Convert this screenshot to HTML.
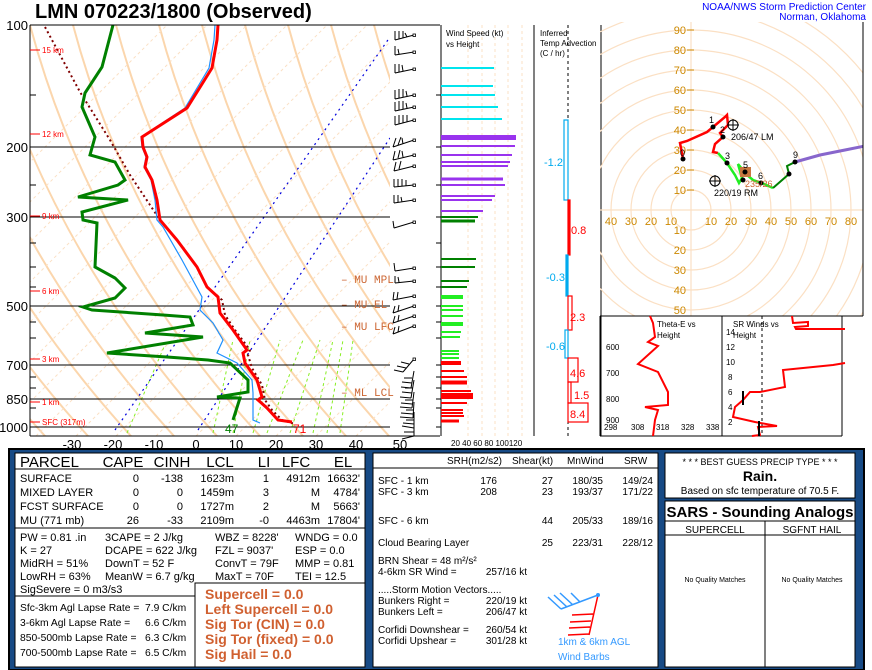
<!DOCTYPE html>
<html><head><meta charset="utf-8"><style>
html,body{margin:0;padding:0;background:#fff;}
svg{display:block;font-family:"Liberation Sans",sans-serif;}
</style></head><body>
<svg width="872" height="670" viewBox="0 0 872 670" xmlns="http://www.w3.org/2000/svg">
<defs>
<clipPath id="sk"><rect x="30" y="25" width="360" height="411"/></clipPath>
<clipPath id="ho"><rect x="600" y="22" width="263" height="294"/></clipPath>
</defs>
<rect width="872" height="670" fill="#fff"/>
<text x="35" y="18" font-size="20" font-weight="bold">LMN   070223/1800  (Observed)</text>
<text x="866" y="10" font-size="10" fill="#0000ff" text-anchor="end">NOAA/NWS Storm Prediction Center</text>
<text x="866" y="20" font-size="10" fill="#0000ff" text-anchor="end">Norman, Oklahoma</text>

<g clip-path="url(#sk)">
 <g stroke="#fbd6ad" stroke-width="2" fill="none">
  <path d="M-185,25 Q-125,250 45,436"/><path d="M-142,25 Q-82,250 88,436"/><path d="M-99,25 Q-39,250 131,436"/>
  <path d="M-56,25 Q4,250 174,436"/><path d="M-13,25 Q47,250 217,436"/><path d="M30,25 Q90,250 260,436"/>
  <path d="M73,25 Q133,250 303,436"/><path d="M116,25 Q176,250 346,436"/><path d="M159,25 Q219,250 389,436"/>
  <path d="M202,25 Q262,250 432,436"/><path d="M245,25 Q305,250 475,436"/><path d="M288,25 Q348,250 518,436"/>
  <path d="M331,25 Q391,250 561,436"/><path d="M374,25 Q434,250 604,436"/>
 </g>
 <g stroke="#fbe0c4" stroke-width="1" stroke-dasharray="3,3" fill="none">
  <path d="M-244,436 l411,-411"/><path d="M-204,436 l411,-411"/><path d="M-164,436 l411,-411"/><path d="M-124,436 l411,-411"/>
  <path d="M-84,436 l411,-411"/><path d="M-44,436 l411,-411"/><path d="M-4,436 l411,-411"/><path d="M36,436 l411,-411"/>
  <path d="M76,436 l411,-411"/><path d="M116,436 l411,-411"/><path d="M156,436 l411,-411"/><path d="M196,436 l411,-411"/>
  <path d="M236,436 l411,-411"/><path d="M276,436 l411,-411"/><path d="M316,436 l411,-411"/><path d="M356,436 l411,-411"/>
 </g>
 <g stroke="#88ee22" stroke-width="1" stroke-dasharray="3,3" fill="none">
  <path d="M127,433 L167,340"/><path d="M213,433 L233,340"/><path d="M233,433 L250,340"/><path d="M253,433 L280,340"/>
  <path d="M267,433 L303,340"/><path d="M290,433 L320,340"/><path d="M313,433 L333,340"/><path d="M327,433 L343,340"/><path d="M340,433 L353,340"/>
 </g>
 <g stroke="#0000dd" stroke-width="1.2" stroke-dasharray="2,4" fill="none">
  <path d="M115,430 L390,37"/><path d="M198,430 L390,138"/>
 </g>
 <g stroke="#000" stroke-width="1">
  <line x1="30" y1="147" x2="390" y2="147"/><line x1="30" y1="217" x2="390" y2="217"/>
  <line x1="30" y1="306" x2="390" y2="306"/><line x1="30" y1="365" x2="390" y2="365"/>
  <line x1="30" y1="399" x2="390" y2="399"/><line x1="30" y1="427" x2="390" y2="427"/>
 </g>
 <polyline fill="none" stroke="#800000" stroke-width="2" stroke-dasharray="2,3" points="45,27 80,92 110,140 130,175 150,205 160,220 177,240 197,267 207,287 222,300 225,315 235,330 250,350 248,355 252,368 262,385 265,400 272,410 282,420 295,424"/>
 <polyline fill="none" stroke="#1e90ff" stroke-width="1.2" points="215,25 214,40 209,68 185,108 141,137 142,147 146,157 144,167 151,180 155,200 157,220 163,227 182,260 202,297 200,310 213,323 223,340 217,353 237,363 252,380 253,393 253,420 260,423"/>
 <polyline fill="none" stroke="#ff0000" stroke-width="3" points="218,25 217,40 212,68 187,108 142,137 143,147 147,157 145,167 152,180 157,200 160,220 177,240 197,267 207,287 218,297 220,313 233,330 247,350 243,353 245,363 257,380 262,397 258,400 267,408 278,420 292,422"/>
 <polyline fill="none" stroke="#008000" stroke-width="3" points="113,25 102,67 85,93 82,107 95,137 90,155 115,162 125,180 118,185 78,197 128,200 82,212 83,220 97,223 95,267 115,278 125,288 115,298 83,307 92,310 163,315 190,317 193,325 145,333 203,337 107,353 167,357 208,360 230,363 248,380 248,392 217,397 240,398 233,420"/>
</g>
<line x1="30" y1="25" x2="440" y2="25" stroke="#000"/>
<line x1="30" y1="25" x2="30" y2="436" stroke="#000"/>
<line x1="30" y1="436" x2="440" y2="436" stroke="#000"/>
<g font-size="13" text-anchor="end">
 <text x="28" y="30">100</text><text x="28" y="152">200</text><text x="28" y="222">300</text><text x="28" y="311">500</text>
 <text x="28" y="370">700</text><text x="28" y="404">850</text><text x="28" y="432">1000</text>
</g>
<g stroke="#000"><line x1="30" y1="95" x2="36" y2="95"/><line x1="30" y1="185" x2="36" y2="185"/><line x1="30" y1="243" x2="36" y2="243"/><line x1="30" y1="267" x2="36" y2="267"/><line x1="30" y1="287" x2="36" y2="287"/><line x1="30" y1="322" x2="36" y2="322"/><line x1="30" y1="338" x2="36" y2="338"/><line x1="30" y1="377" x2="36" y2="377"/><line x1="30" y1="388" x2="36" y2="388"/><line x1="30" y1="408" x2="36" y2="408"/>
<line x1="436" y1="95" x2="441" y2="95"/><line x1="436" y1="147" x2="441" y2="147"/><line x1="436" y1="185" x2="441" y2="185"/><line x1="436" y1="217" x2="441" y2="217"/><line x1="436" y1="243" x2="441" y2="243"/><line x1="436" y1="267" x2="441" y2="267"/><line x1="436" y1="287" x2="441" y2="287"/><line x1="436" y1="306" x2="441" y2="306"/><line x1="436" y1="322" x2="441" y2="322"/><line x1="436" y1="338" x2="441" y2="338"/><line x1="436" y1="365" x2="441" y2="365"/><line x1="436" y1="377" x2="441" y2="377"/><line x1="436" y1="388" x2="441" y2="388"/><line x1="436" y1="399" x2="441" y2="399"/><line x1="436" y1="408" x2="441" y2="408"/><line x1="436" y1="427" x2="441" y2="427"/></g>
<g font-size="13" text-anchor="middle">
 <text x="72" y="449">-30</text><text x="113" y="449">-20</text><text x="154" y="449">-10</text><text x="196" y="449">0</text>
 <text x="236" y="449">10</text><text x="276" y="449">20</text><text x="316" y="449">30</text><text x="356" y="449">40</text><text x="400" y="449">50</text>
</g>
<g fill="#ff0000" font-size="8">
 <line x1="30" y1="50" x2="40" y2="50" stroke="#f00"/><text x="42" y="53">15 km</text>
 <line x1="30" y1="134" x2="40" y2="134" stroke="#f00"/><text x="42" y="137">12 km</text>
 <line x1="30" y1="216" x2="40" y2="216" stroke="#f00"/><text x="42" y="219">9 km</text>
 <line x1="30" y1="291" x2="40" y2="291" stroke="#f00"/><text x="42" y="294">6 km</text>
 <line x1="30" y1="359" x2="40" y2="359" stroke="#f00"/><text x="42" y="362">3 km</text>
 <line x1="30" y1="402" x2="40" y2="402" stroke="#f00"/><text x="42" y="405">1 km</text>
 <line x1="30" y1="422" x2="40" y2="422" stroke="#f00"/><text x="42" y="425">SFC (317m)</text>
</g>
<g fill="#cc6633" font-size="11" font-family="Liberation Mono,monospace">
 <text x="341" y="283">– MU MPL</text><text x="341" y="308">– MU EL</text><text x="341" y="330">– MU LFC</text><text x="341" y="396">– ML LCL</text>
</g>
<text x="225" y="433" fill="#008000" font-size="12">47</text>
<text x="293" y="433" fill="#ff0000" font-size="12">71</text>
<g stroke="#000" stroke-width="1" fill="none">
 <path d="M414,35 L395,40 M395,40 l0,-9 M399,39 l0,-8 M403,38 l0,-7 M407,37 l-2,-4"/>
 <path d="M414,52 L395,55 M395,55 l0,-9 M399,54 l-1,-5"/>
 <path d="M414,69 L395,73 M395,73 l0,-9 M399,72 l0,-8 M403,71 l-1,-6"/>
 <path d="M414,95 L395,99 M395,99 l0,-9 M399,98 l0,-9 M403,97 l0,-8 M407,96 l-1,-5"/>
 <path d="M414,107 L395,111 M395,111 l0,-9 M399,110 l0,-9 M403,109 l0,-8 M407,108 l-1,-5"/>
 <path d="M414,120 L395,125 M395,125 l0,-9 M399,124 l0,-9 M403,123 l0,-8 M407,122 l0,-7"/>
 <path d="M414,140 L393,147 M393,147 l3,-9 M398,145 l3,-8 M403,144 l-1,-6"/>
 <path d="M414,155 L393,160 M393,160 l2,-9 M398,158 l2,-8 M403,157 l-1,-6"/>
 <path d="M414,166 L394,171 M394,171 l2,-9 M399,169 l2,-8"/>
 <path d="M414,185 L394,187 M394,187 l0,-8 M398,187 l0,-8 M402,186 l0,-7 M406,186 l0,-6"/>
 <path d="M414,200 L394,203 M394,203 l0,-8 M398,202 l0,-7 M402,202 l-1,-5"/>
 <path d="M414,222 L394,228 M394,228 l-1,-7"/>
 <path d="M414,268 L395,271 M395,271 l-1,-8"/>
 <path d="M414,281 L395,283 M395,283 l0,-7 M399,282 l-1,-5"/>
 <path d="M414,296 L393,300 M393,300 l1,-8 M397,299 l1,-7"/>
 <path d="M414,306 L393,313 M393,313 l2,-7 M398,311 l1,-6"/>
 <path d="M414,316 L393,323 M393,323 l2,-7 M398,321 l1,-6"/>
 <path d="M414,326 L393,334 M393,334 l2,-7 M398,332 l1,-6"/>
 <path d="M414,359 L403,372 M403,372 l-9,-2 M406,368 l-9,-2 M409,364 l-8,-2"/>
 <path d="M414,371 L411,388 M411,388 l-10,-1 M412,383 l-10,-1 M412,378 l-8,0"/>
 <path d="M414,380 L411,398 M411,398 l-11,-1 M412,393 l-10,-1 M413,388 l-8,0"/>
 <path d="M414,392 L412,408 M412,408 l-12,-1 M412,404 l-11,-1 M413,400 l-8,0"/>
 <path d="M414,402 L413,418 M413,418 l-13,-1 M413,414 l-12,-1 M414,410 l-8,0"/>
 <path d="M414,412 L414,428 M414,428 l-12,-2 M414,424 l-11,-1 M414,420 l-8,0"/>
 <path d="M414,420 L414,436 M414,436 l-12,3 M414,432 l-10,0"/>
</g>
<g fill="#fff" stroke="#000" stroke-width="0.8">
<rect x="413" y="34" width="2.5" height="2.5"/><rect x="413" y="51" width="2.5" height="2.5"/><rect x="413" y="68" width="2.5" height="2.5"/><rect x="413" y="94" width="2.5" height="2.5"/><rect x="413" y="106" width="2.5" height="2.5"/><rect x="413" y="119" width="2.5" height="2.5"/><rect x="413" y="139" width="2.5" height="2.5"/><rect x="413" y="154" width="2.5" height="2.5"/><rect x="413" y="165" width="2.5" height="2.5"/><rect x="413" y="184" width="2.5" height="2.5"/><rect x="413" y="199" width="2.5" height="2.5"/><rect x="413" y="221" width="2.5" height="2.5"/><rect x="413" y="267" width="2.5" height="2.5"/><rect x="413" y="280" width="2.5" height="2.5"/><rect x="413" y="295" width="2.5" height="2.5"/><rect x="413" y="305" width="2.5" height="2.5"/><rect x="413" y="315" width="2.5" height="2.5"/><rect x="413" y="325" width="2.5" height="2.5"/><rect x="413" y="358" width="2.5" height="2.5"/>
</g>

<line x1="441" y1="25" x2="441" y2="436" stroke="#000"/>
<g stroke="#fbe0c4" stroke-dasharray="3,3"><line x1="468" y1="25" x2="468" y2="436"/><line x1="482" y1="25" x2="482" y2="436"/><line x1="495" y1="25" x2="495" y2="436"/><line x1="508" y1="25" x2="508" y2="436"/><line x1="522" y1="25" x2="522" y2="436"/></g>
<text x="446" y="36" font-size="8">Wind Speed (kt)</text><text x="446" y="47" font-size="8">vs Height</text>
<g stroke-width="2">
 <g stroke="#00e5ee"><line x1="441" y1="68" x2="494" y2="68"/><line x1="441" y1="86" x2="493" y2="86"/><line x1="441" y1="95" x2="495" y2="95"/><line x1="441" y1="107" x2="498" y2="107"/><line x1="441" y1="119" x2="502" y2="119"/></g>
 <g stroke="#9933ee"><line x1="441" y1="137.5" x2="516" y2="137.5" stroke-width="5"/><line x1="441" y1="146" x2="515" y2="146"/><line x1="441" y1="155" x2="512" y2="155"/><line x1="441" y1="162" x2="510" y2="162"/><line x1="441" y1="166" x2="508" y2="166"/><line x1="441" y1="179" x2="503" y2="179" stroke-width="3"/><line x1="441" y1="185" x2="505" y2="185"/><line x1="441" y1="196" x2="495" y2="196"/><line x1="441" y1="200" x2="492" y2="200"/><line x1="441" y1="211" x2="483" y2="211"/></g>
 <g stroke="#008000"><line x1="441" y1="217" x2="478" y2="217"/><line x1="441" y1="221" x2="475" y2="221" stroke-width="3"/><line x1="441" y1="259" x2="476" y2="259"/><line x1="441" y1="267" x2="475" y2="267"/><line x1="441" y1="281" x2="469" y2="281"/><line x1="441" y1="287" x2="467" y2="287"/></g>
 <g stroke="#22ee22"><line x1="441" y1="297" x2="463" y2="297" stroke-width="4"/><line x1="441" y1="306" x2="463" y2="306"/><line x1="441" y1="310" x2="463" y2="310"/><line x1="441" y1="316" x2="463" y2="316"/><line x1="441" y1="324" x2="463" y2="324" stroke-width="4"/><line x1="441" y1="332" x2="461" y2="332"/><line x1="441" y1="337" x2="460" y2="337"/><line x1="441" y1="351" x2="459" y2="351"/><line x1="441" y1="354" x2="459" y2="354"/><line x1="441" y1="358" x2="459" y2="358"/></g>
 <g stroke="#ff0000"><line x1="441" y1="363" x2="461" y2="363" stroke-width="4"/><line x1="441" y1="371" x2="464" y2="371"/><line x1="441" y1="377" x2="467" y2="377"/><line x1="441" y1="382.5" x2="467" y2="382.5" stroke-width="4"/><line x1="441" y1="391" x2="471" y2="391"/><line x1="441" y1="396" x2="473" y2="396" stroke-width="6"/><line x1="441" y1="403" x2="467" y2="403"/><line x1="441" y1="410" x2="463" y2="410"/><line x1="441" y1="413" x2="463" y2="413"/><line x1="441" y1="416" x2="464" y2="416"/><line x1="441" y1="421" x2="459" y2="421" stroke-width="3"/></g>
</g>
<text x="451" y="446" font-size="8">20 40 60 80 100120</text>

<line x1="534" y1="25" x2="534" y2="436" stroke="#000"/>
<line x1="601" y1="25" x2="601" y2="436" stroke="#000"/>
<line x1="568" y1="25" x2="568" y2="436" stroke="#000" stroke-dasharray="3,3"/>
<g font-size="8"><text x="540" y="36">Inferred</text><text x="540" y="46">Temp Advection</text><text x="540" y="56">(C / hr)</text></g>
<g fill="none" stroke-width="1.2">
 <rect x="564" y="120" width="4" height="80" stroke="#00aaee"/>
 <rect x="568" y="200" width="2" height="55" fill="#f00" stroke="#f00"/>
 <rect x="566" y="255" width="2" height="41" fill="#00aaee" stroke="#00aaee"/>
 <rect x="568" y="296" width="4" height="34" stroke="#f00"/>
 <rect x="565" y="330" width="3" height="28" stroke="#00aaee"/>
 <rect x="568" y="358" width="10" height="24" stroke="#f00"/>
 <rect x="568" y="382" width="3" height="21" stroke="#f00"/>
 <rect x="568" y="403" width="20" height="19" stroke="#f00"/>
</g>
<g font-size="11"><text x="544" y="166" fill="#00aaee">-1.2</text><text x="571" y="234" fill="#f00">0.8</text><text x="546" y="281" fill="#00aaee">-0.3</text><text x="570" y="321" fill="#f00">2.3</text><text x="546" y="350" fill="#00aaee">-0.6</text><text x="570" y="377" fill="#f00">4.6</text><text x="574" y="399" fill="#f00">1.5</text><text x="570" y="418" fill="#f00">8.4</text></g>

<g clip-path="url(#ho)">
 <g fill="none" stroke="#fbe0c4" stroke-width="1.2">
  <circle cx="691" cy="210" r="20"/><circle cx="691" cy="210" r="40"/><circle cx="691" cy="210" r="60"/><circle cx="691" cy="210" r="80"/><circle cx="691" cy="210" r="100"/><circle cx="691" cy="210" r="120"/><circle cx="691" cy="210" r="140"/><circle cx="691" cy="210" r="160"/><circle cx="691" cy="210" r="180"/><circle cx="691" cy="210" r="200"/><circle cx="691" cy="210" r="220"/>
  <line x1="600" y1="210" x2="863" y2="210"/><line x1="691" y1="22" x2="691" y2="316"/>
 </g>
 <g fill="#cc8800" font-size="11">
  <g text-anchor="end"><text x="686" y="34">90</text><text x="686" y="54">80</text><text x="686" y="74">70</text><text x="686" y="94">60</text><text x="686" y="114">50</text><text x="686" y="134">40</text><text x="686" y="154">30</text><text x="686" y="174">20</text><text x="686" y="194">10</text>
  <text x="686" y="234">10</text><text x="686" y="254">20</text><text x="686" y="274">30</text><text x="686" y="294">40</text><text x="686" y="314">50</text></g>
  <g text-anchor="middle"><text x="611" y="225">40</text><text x="631" y="225">30</text><text x="651" y="225">20</text><text x="671" y="225">10</text><text x="711" y="225">10</text><text x="731" y="225">20</text><text x="751" y="225">30</text><text x="771" y="225">40</text><text x="791" y="225">50</text><text x="811" y="225">60</text><text x="831" y="225">70</text><text x="851" y="225">80</text></g>
 </g>
 <g stroke="#cc8800"><line x1="687" y1="30" x2="694" y2="30"/><line x1="687" y1="50" x2="694" y2="50"/><line x1="687" y1="70" x2="694" y2="70"/><line x1="687" y1="90" x2="694" y2="90"/><line x1="687" y1="110" x2="694" y2="110"/><line x1="687" y1="130" x2="694" y2="130"/><line x1="687" y1="150" x2="694" y2="150"/><line x1="687" y1="170" x2="694" y2="170"/><line x1="687" y1="190" x2="694" y2="190"/></g>
 <polyline fill="none" stroke="#ff0000" stroke-width="2.5" points="683,159 680,143 687,141 707,132 713,127 725,117 727,115 728,125 720,133 723,137 715,144 713,152 718,153"/>
 <polyline fill="none" stroke="#22ee22" stroke-width="2.5" points="718,153 727,163 735,175 739,183 742,178 738,164 747,175 753,180 762,183 773,188"/>
 <polyline fill="none" stroke="#008000" stroke-width="2" points="773,188 789,174 787,166 795,162"/>
 <polyline fill="none" stroke="#8866cc" stroke-width="3" points="795,162 820,155 845,150 865,146"/>
 <rect x="740" y="167" width="11" height="10" fill="#c87840"/>
 <g fill="#000"><circle cx="683" cy="159" r="2.5"/><circle cx="713" cy="127" r="2.5"/><circle cx="723" cy="137" r="2.5"/><circle cx="727" cy="163" r="2.5"/><circle cx="745" cy="172" r="2.5"/><circle cx="743" cy="180" r="2.5"/><circle cx="761" cy="183" r="2.5"/><circle cx="789" cy="174" r="2.5"/><circle cx="795" cy="162" r="2.5"/></g>
 <g font-size="9"><text x="680" y="156">0</text><text x="709" y="123">1</text><text x="720" y="133">2</text><text x="725" y="159">3</text><text x="743" y="168">5</text><text x="758" y="179">6</text><text x="793" y="158">9</text>
 <text x="731" y="140">206/47 LM</text><text x="714" y="196">220/19 RM</text><text x="745" y="187" fill="#cc6633">235/26</text></g>
 <g fill="none" stroke="#000"><circle cx="733" cy="125" r="5"/><line x1="727" y1="125" x2="739" y2="125"/><line x1="733" y1="119" x2="733" y2="131"/><circle cx="715" cy="181" r="5"/><line x1="709" y1="181" x2="721" y2="181"/><line x1="715" y1="175" x2="715" y2="187"/></g>
</g>
<line x1="863" y1="22" x2="863" y2="316" stroke="#000"/>
<line x1="600" y1="316" x2="863" y2="316" stroke="#000"/>

<line x1="600" y1="316" x2="600" y2="436" stroke="#000"/>
<line x1="722" y1="316" x2="722" y2="436" stroke="#000"/>
<line x1="842" y1="316" x2="842" y2="436" stroke="#000"/>
<line x1="600" y1="436" x2="842" y2="436" stroke="#000"/>
<g font-size="8"><text x="657" y="327">Theta-E vs</text><text x="657" y="338">Height</text>
<text x="606" y="350">600</text><text x="606" y="376">700</text><text x="606" y="402">800</text><text x="606" y="423">900</text>
<text x="604" y="430">298</text><text x="631" y="430">308</text><text x="656" y="430">318</text><text x="681" y="430">328</text><text x="706" y="430">338</text></g>
<polyline fill="none" stroke="#f00" stroke-width="2" points="650,316 653,323 655,337 648,342 658,346 638,364 658,372 668,392 668,405 645,407 658,410 655,420 653,436"/>
<line x1="762" y1="316" x2="762" y2="436" stroke="#000" stroke-dasharray="3,3"/>
<g font-size="8"><text x="733" y="327">SR Winds vs</text><text x="733" y="338">Height</text>
<text x="726" y="335">14</text><text x="726" y="350">12</text><text x="726" y="365">10</text><text x="728" y="380">8</text><text x="728" y="395">6</text><text x="728" y="410">4</text><text x="728" y="425">2</text></g>
<polyline fill="none" stroke="#f00" stroke-width="2" points="752,436 760,435 758,427 777,426 755,422 733,417 735,407 743,400 750,392 760,392 785,387 783,370 833,365 845,363"/>
<polyline fill="none" stroke="#f00" stroke-width="2" points="792,316 793,323 808,322 808,326 795,327 796,329 845,329"/>
<g stroke="#000" stroke-width="2"><line x1="743" y1="391" x2="743" y2="405"/><line x1="759" y1="421" x2="759" y2="436"/></g>

<rect x="9" y="449" width="855" height="221" fill="#174a85" stroke="#000" stroke-width="2"/>
<rect x="15" y="453" width="350" height="214" fill="#fff" stroke="#000"/>
<line x1="15" y1="469" x2="365" y2="469" stroke="#000"/>
<line x1="15" y1="528" x2="365" y2="528" stroke="#000"/>
<line x1="15" y1="596" x2="195" y2="596" stroke="#000"/>
<rect x="195" y="583" width="170" height="84" fill="#fff" stroke="#000"/>
<text x="20" y="467" font-size="15">PARCEL</text>
<g font-size="15" text-anchor="middle"><text x="123" y="467">CAPE</text><text x="172" y="467">CINH</text><text x="220" y="467">LCL</text><text x="264" y="467">LI</text><text x="296" y="467">LFC</text><text x="343" y="467">EL</text></g>
<g font-size="11">
 <text x="20" y="482">SURFACE</text><text x="20" y="496">MIXED LAYER</text><text x="20" y="510">FCST SURFACE</text><text x="20" y="524">MU    (771 mb)</text>
 <g text-anchor="end">
  <text x="139" y="482">0</text><text x="139" y="496">0</text><text x="139" y="510">0</text><text x="139" y="524">26</text>
  <text x="183" y="482">-138</text><text x="183" y="496">0</text><text x="183" y="510">0</text><text x="183" y="524">-33</text>
  <text x="234" y="482">1623m</text><text x="234" y="496">1459m</text><text x="234" y="510">1727m</text><text x="234" y="524">2109m</text>
  <text x="269" y="482">1</text><text x="269" y="496">3</text><text x="269" y="510">2</text><text x="269" y="524">-0</text>
  <text x="320" y="482">4912m</text><text x="320" y="496">M</text><text x="320" y="510">M</text><text x="320" y="524">4463m</text>
  <text x="360" y="482">16632'</text><text x="360" y="496">4784'</text><text x="360" y="510">5663'</text><text x="360" y="524">17804'</text>
 </g>
 <text x="20" y="541">PW = 0.81  .in</text><text x="105" y="541">3CAPE = 2 J/kg</text><text x="215" y="541">WBZ = 8228'</text><text x="295" y="541">WNDG = 0.0</text>
 <text x="20" y="554">K = 27</text><text x="105" y="554">DCAPE = 622 J/kg</text><text x="215" y="554">FZL = 9037'</text><text x="295" y="554">ESP = 0.0</text>
 <text x="20" y="567">MidRH = 51%</text><text x="105" y="567">DownT = 52 F</text><text x="215" y="567">ConvT = 79F</text><text x="295" y="567">MMP = 0.81</text>
 <text x="20" y="580">LowRH = 63%</text><text x="105" y="580">MeanW = 6.7 g/kg</text><text x="215" y="580">MaxT = 70F</text><text x="295" y="580">TEI = 12.5</text>
 <text x="20" y="593">SigSevere = 0 m3/s3</text>
 <g font-size="10.3">
 <text x="20" y="611">Sfc-3km Agl Lapse Rate =</text><text x="145" y="611">7.9 C/km</text>
 <text x="20" y="626">3-6km Agl Lapse Rate =</text><text x="145" y="626">6.6 C/km</text>
 <text x="20" y="641">850-500mb Lapse Rate =</text><text x="145" y="641">6.3 C/km</text>
 <text x="20" y="656">700-500mb Lapse Rate =</text><text x="145" y="656">6.5 C/km</text>
 </g>
</g>
<g font-size="14" font-weight="bold" fill="#d06030">
 <text x="205" y="599">Supercell = 0.0</text><text x="205" y="614">Left Supercell = 0.0</text><text x="205" y="629">Sig Tor (CIN) = 0.0</text><text x="205" y="644">Sig Tor (fixed) = 0.0</text><text x="205" y="659">Sig Hail = 0.0</text>
</g>

<rect x="373" y="453" width="285" height="214" fill="#fff" stroke="#000"/>
<line x1="373" y1="468" x2="658" y2="468" stroke="#000"/>
<g font-size="10">
 <text x="447" y="464">SRH(m2/s2)</text><text x="512" y="464">Shear(kt)</text><text x="567" y="464">MnWind</text><text x="624" y="464">SRW</text>
 <text x="378" y="484">SFC - 1 km</text><text x="378" y="495">SFC - 3 km</text><text x="378" y="524">SFC - 6 km</text><text x="378" y="546">Cloud Bearing Layer</text>
 <text x="378" y="564">BRN Shear =  48 m²/s²</text><text x="378" y="575">4-6km SR Wind =</text>
 <text x="378" y="593">.....Storm Motion Vectors.....</text><text x="378" y="604">Bunkers Right =</text><text x="378" y="615">Bunkers Left =</text>
 <text x="378" y="633">Corfidi Downshear =</text><text x="378" y="644">Corfidi Upshear =</text>
 <g text-anchor="end">
  <text x="497" y="484">176</text><text x="497" y="495">208</text>
  <text x="553" y="484">27</text><text x="553" y="495">23</text><text x="553" y="524">44</text><text x="553" y="546">25</text>
  <text x="603" y="484">180/35</text><text x="603" y="495">193/37</text><text x="603" y="524">205/33</text><text x="603" y="546">223/31</text>
  <text x="653" y="484">149/24</text><text x="653" y="495">171/22</text><text x="653" y="524">189/16</text><text x="653" y="546">228/12</text>
  <text x="527" y="575">257/16 kt</text><text x="527" y="604">220/19 kt</text><text x="527" y="615">206/47 kt</text><text x="527" y="633">260/54 kt</text><text x="527" y="644">301/28 kt</text>
 </g>
</g>
<g fill="none" stroke-width="1.5">
 <path d="M598,595 L561,609 M561,609 l-13,-12 M567,607 l-13,-12 M573,605 l-13,-12 M580,602 l-9,-9" stroke="#3399ff"/>
 <path d="M598,595 L589,635 M593,614 l-21,1 M591,621 l-21,1 M590,627 l-21,1 M589,634 l-21,1" stroke="#f00"/>
</g>
<circle cx="598" cy="595" r="2" fill="#3399ff"/>
<text x="558" y="645" font-size="10" fill="#3399ff">1km &amp; 6km AGL</text>
<text x="558" y="660" font-size="10" fill="#3399ff">Wind Barbs</text>

<rect x="665" y="453" width="190" height="45" fill="#fff" stroke="#000"/>
<text x="760" y="465" font-size="9" text-anchor="middle">* * * BEST GUESS PRECIP TYPE * * *</text>
<text x="760" y="481" font-size="14" font-weight="bold" text-anchor="middle">Rain.</text>
<text x="760" y="494" font-size="10" text-anchor="middle">Based on sfc temperature of 70.5 F.</text>
<rect x="665" y="501" width="190" height="166" fill="#fff" stroke="#000"/>
<line x1="665" y1="521" x2="855" y2="521" stroke="#000"/>
<line x1="665" y1="535" x2="855" y2="535" stroke="#000"/>
<line x1="765" y1="521" x2="765" y2="667" stroke="#000"/>
<text x="760" y="517" font-size="15" font-weight="bold" text-anchor="middle">SARS - Sounding Analogs</text>
<text x="715" y="533" font-size="10" text-anchor="middle">SUPERCELL</text>
<text x="812" y="533" font-size="10" text-anchor="middle">SGFNT HAIL</text>
<text x="715" y="582" font-size="7" text-anchor="middle">No Quality Matches</text>
<text x="812" y="582" font-size="7" text-anchor="middle">No Quality Matches</text>
</svg>
</body></html>
